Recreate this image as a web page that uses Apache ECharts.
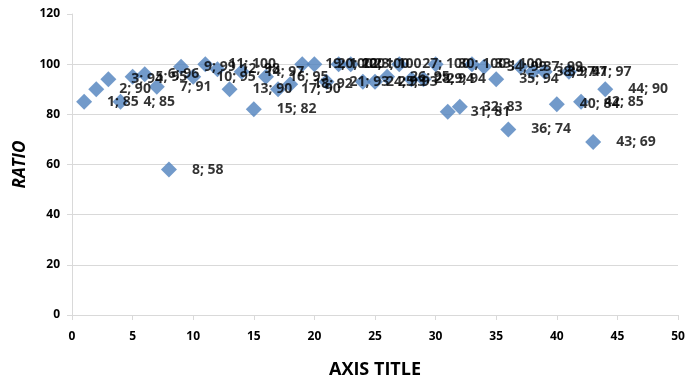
<!DOCTYPE html>
<html>
<head>
<meta charset="utf-8">
<script src="https://cdn.jsdelivr.net/npm/echarts@6/dist/echarts.min.js"></script>
<style>html,body{margin:0;padding:0;background:#fff}#c{width:689px;height:384px}</style>
</head>
<body>
<div id="c"></div>
<script>
const xValues = [1,2,3,4,5,6,7,8,9,10,11,12,13,14,15,16,17,18,19,20,21,22,23,24,25,26,27,28,29,30,31,32,33,34,35,36,37,38,39,40,41,42,43,44];
const yValues = [85,90,94,85,95,96,91,58,99,95,100,98,90,97,82,95,90,92,100,100,93,100,100,93,93,95,100,94,94,100,81,83,100,99,94,74,99,97,97,84,97,85,69,90];
const xTicks = {min:0, max:50, interval:5};
const yTicks = {min:0, max:120, interval:20};
const xTitle = 'AXIS TITLE';
const yTitle = 'RATIO';

const data = xValues.map((x,i)=>[x, yValues[i]]);
const chart = echarts.init(document.getElementById('c'), null, {renderer:'canvas'});
const font = '"Open Sans", "Noto Sans", sans-serif';
chart.setOption({
  animation:false,
  backgroundColor:'#fff',
  grid:{left:72, right:11, top:14, bottom:68},
  xAxis:{
    type:'value', min:xTicks.min, max:xTicks.max, interval:xTicks.interval,
    name:xTitle, nameLocation:'middle', nameGap:46,
    nameTextStyle:{fontFamily:font, fontWeight:'bold', fontSize:18, color:'#000'},
    axisLine:{show:true, lineStyle:{color:'#d9d9d9', width:1}},
    axisTick:{show:true, length:5, lineStyle:{color:'#d9d9d9'}},
    axisLabel:{fontFamily:font, fontWeight:'bold', fontSize:12, color:'#000', margin:16},
    splitLine:{show:false}
  },
  yAxis:{
    type:'value', min:yTicks.min, max:yTicks.max, interval:yTicks.interval,
    name:yTitle, nameLocation:'middle', nameGap:41, nameRotate:90,
    nameTextStyle:{fontFamily:font, fontWeight:'bold', fontStyle:'italic', fontSize:17, color:'#000'},
    axisLine:{show:true, lineStyle:{color:'#d9d9d9', width:1}},
    axisTick:{show:true, length:5, lineStyle:{color:'#d9d9d9'}},
    axisLabel:{fontFamily:font, fontWeight:'bold', fontSize:12, color:'#000', margin:12},
    splitLine:{show:true, showMaxLine:false, lineStyle:{color:'#d9d9d9', width:1}}
  },
  series:[{
    type:'scatter',
    data:data,
    symbol:'diamond',
    symbolSize:16,
    itemStyle:{color:'#4f81bd'},
    label:{
      show:true, position:'right', distance:15, offset:[0,5],
      formatter:p=>p.value[0]+'; '+p.value[1],
      fontFamily:font, fontWeight:'bold', fontSize:14, color:'#000'
    },
    labelLayout:{hideOverlap:false}
  }]
});
</script>
</body>
</html>
